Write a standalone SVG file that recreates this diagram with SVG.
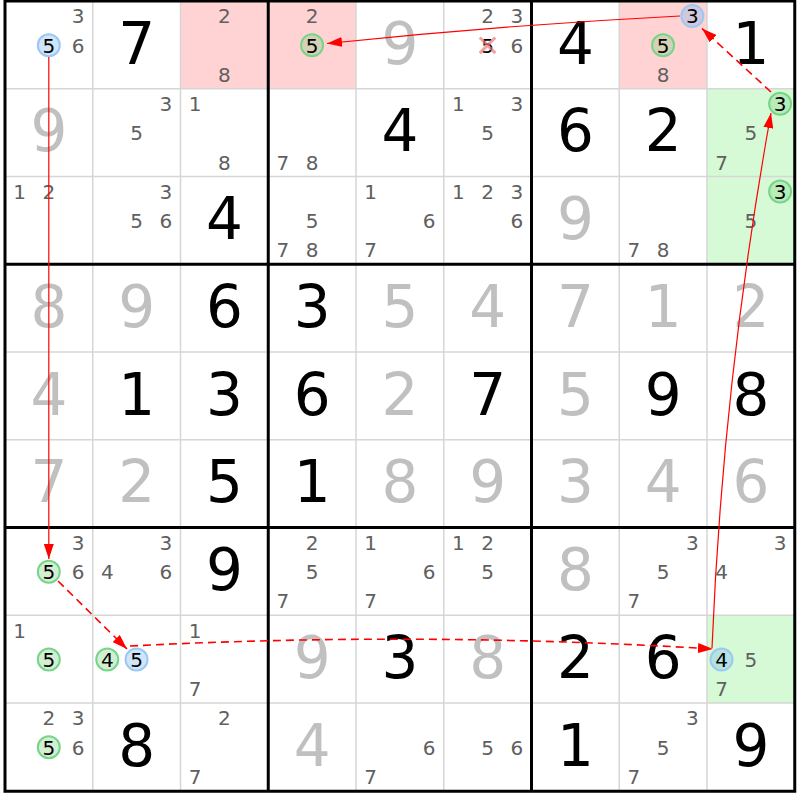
<svg xmlns="http://www.w3.org/2000/svg" width="800" height="800" viewBox="0 0 800 800">
<style>
text{font-family:"DejaVu Sans",Verdana,sans-serif;text-anchor:middle}
.c{font-size:20px;fill:#606060}
.k{fill:#000}
.b{font-size:58px;fill:#000}
.s{fill:#c0c0c0}
.hp{fill:#ffd3d3}
.hg{fill:#d6fad6}
.cb{fill:rgba(120,180,240,0.35);stroke:#9cc8f4;stroke-width:2}
.cg{fill:rgba(130,210,130,0.35);stroke:#78d488;stroke-width:2}
.thin{stroke:#d6d6d6;stroke-width:1.5}
.bold{stroke:#000;stroke-width:3}
.lk{fill:none;stroke:#ff0000;stroke-width:1.2;marker-end:url(#ah)}
.dl{stroke-width:1.6;stroke-dasharray:8,5}
</style>
<defs>
<marker id="ah" markerUnits="userSpaceOnUse" markerWidth="15" markerHeight="10" refX="15" refY="5" orient="auto">
<path d="M0,0 L15,5 L0,10 z" fill="#ff0000"/>
</marker>
</defs>
<rect x="0" y="0" width="800" height="800" fill="#fff"/>
<g id="cells">
<!-- row 1 -->
<g id="r1c1" transform="translate(5,1)"><circle class="cb" cx="43.8" cy="44.3" r="11"/><text class="c" x="73.1" y="22.3">3</text><text class="c k" x="43.8" y="51.6">5</text><text class="c" x="73.1" y="51.6">6</text></g>
<g id="r1c2" transform="translate(92.75,1)"><text class="b" x="43.9" y="62.5">7</text></g>
<g id="r1c3" transform="translate(180.5,1)"><rect class="hp" width="87.75" height="87.75"/><text class="c" x="43.8" y="22.3">2</text><text class="c" x="43.8" y="80.9">8</text></g>
<g id="r1c4" transform="translate(268.25,1)"><rect class="hp" width="87.75" height="87.75"/><circle class="cg" cx="43.8" cy="44.3" r="11"/><text class="c" x="43.8" y="22.3">2</text><text class="c k" x="43.8" y="51.6">5</text></g>
<g id="r1c5" transform="translate(356,1)"><text class="b s" x="43.9" y="62.5">9</text></g>
<g id="r1c6" transform="translate(443.75,1)"><text class="c" x="43.8" y="22.3">2</text><text class="c" x="73.1" y="22.3">3</text><text class="c k" x="43.8" y="51.6">5</text><path d="M36,36.5 L51.6,52.1 M51.6,36.5 L36,52.1" stroke="#f07878" stroke-opacity="0.7" stroke-width="3"/><text class="c" x="73.1" y="51.6">6</text></g>
<g id="r1c7" transform="translate(531.5,1)"><text class="b" x="43.9" y="62.5">4</text></g>
<g id="r1c8" transform="translate(619.25,1)"><rect class="hp" width="87.75" height="87.75"/><circle class="cb" cx="73.1" cy="15" r="11"/><circle class="cg" cx="43.8" cy="44.3" r="11"/><text class="c k" x="73.1" y="22.3">3</text><text class="c k" x="43.8" y="51.6">5</text><text class="c" x="43.8" y="80.9">8</text></g>
<g id="r1c9" transform="translate(707,1)"><text class="b" x="43.9" y="62.5">1</text></g>
<!-- row 2 -->
<g id="r2c1" transform="translate(5,88.75)"><text class="b s" x="43.9" y="62.5">9</text></g>
<g id="r2c2" transform="translate(92.75,88.75)"><text class="c" x="73.1" y="22.3">3</text><text class="c" x="43.8" y="51.6">5</text></g>
<g id="r2c3" transform="translate(180.5,88.75)"><text class="c" x="14.5" y="22.3">1</text><text class="c" x="43.8" y="80.9">8</text></g>
<g id="r2c4" transform="translate(268.25,88.75)"><text class="c" x="14.5" y="80.9">7</text><text class="c" x="43.8" y="80.9">8</text></g>
<g id="r2c5" transform="translate(356,88.75)"><text class="b" x="43.9" y="62.5">4</text></g>
<g id="r2c6" transform="translate(443.75,88.75)"><text class="c" x="14.5" y="22.3">1</text><text class="c" x="73.1" y="22.3">3</text><text class="c" x="43.8" y="51.6">5</text></g>
<g id="r2c7" transform="translate(531.5,88.75)"><text class="b" x="43.9" y="62.5">6</text></g>
<g id="r2c8" transform="translate(619.25,88.75)"><text class="b" x="43.9" y="62.5">2</text></g>
<g id="r2c9" transform="translate(707,88.75)"><rect class="hg" width="87.75" height="87.75"/><circle class="cg" cx="73.1" cy="15" r="11"/><text class="c k" x="73.1" y="22.3">3</text><text class="c" x="43.8" y="51.6">5</text><text class="c" x="14.5" y="80.9">7</text></g>
<!-- row 3 -->
<g id="r3c1" transform="translate(5,176.5)"><text class="c" x="14.5" y="22.3">1</text><text class="c" x="43.8" y="22.3">2</text></g>
<g id="r3c2" transform="translate(92.75,176.5)"><text class="c" x="73.1" y="22.3">3</text><text class="c" x="43.8" y="51.6">5</text><text class="c" x="73.1" y="51.6">6</text></g>
<g id="r3c3" transform="translate(180.5,176.5)"><text class="b" x="43.9" y="62.5">4</text></g>
<g id="r3c4" transform="translate(268.25,176.5)"><text class="c" x="43.8" y="51.6">5</text><text class="c" x="14.5" y="80.9">7</text><text class="c" x="43.8" y="80.9">8</text></g>
<g id="r3c5" transform="translate(356,176.5)"><text class="c" x="14.5" y="22.3">1</text><text class="c" x="73.1" y="51.6">6</text><text class="c" x="14.5" y="80.9">7</text></g>
<g id="r3c6" transform="translate(443.75,176.5)"><text class="c" x="14.5" y="22.3">1</text><text class="c" x="43.8" y="22.3">2</text><text class="c" x="73.1" y="22.3">3</text><text class="c" x="73.1" y="51.6">6</text></g>
<g id="r3c7" transform="translate(531.5,176.5)"><text class="b s" x="43.9" y="62.5">9</text></g>
<g id="r3c8" transform="translate(619.25,176.5)"><text class="c" x="14.5" y="80.9">7</text><text class="c" x="43.8" y="80.9">8</text></g>
<g id="r3c9" transform="translate(707,176.5)"><rect class="hg" width="87.75" height="87.75"/><circle class="cg" cx="73.1" cy="15" r="11"/><text class="c k" x="73.1" y="22.3">3</text><text class="c" x="43.8" y="51.6">5</text></g>
<!-- row 4 -->
<g id="r4c1" transform="translate(5,264.25)"><text class="b s" x="43.9" y="62.5">8</text></g>
<g id="r4c2" transform="translate(92.75,264.25)"><text class="b s" x="43.9" y="62.5">9</text></g>
<g id="r4c3" transform="translate(180.5,264.25)"><text class="b" x="43.9" y="62.5">6</text></g>
<g id="r4c4" transform="translate(268.25,264.25)"><text class="b" x="43.9" y="62.5">3</text></g>
<g id="r4c5" transform="translate(356,264.25)"><text class="b s" x="43.9" y="62.5">5</text></g>
<g id="r4c6" transform="translate(443.75,264.25)"><text class="b s" x="43.9" y="62.5">4</text></g>
<g id="r4c7" transform="translate(531.5,264.25)"><text class="b s" x="43.9" y="62.5">7</text></g>
<g id="r4c8" transform="translate(619.25,264.25)"><text class="b s" x="43.9" y="62.5">1</text></g>
<g id="r4c9" transform="translate(707,264.25)"><text class="b s" x="43.9" y="62.5">2</text></g>
<!-- row 5 -->
<g id="r5c1" transform="translate(5,352)"><text class="b s" x="43.9" y="62.5">4</text></g>
<g id="r5c2" transform="translate(92.75,352)"><text class="b" x="43.9" y="62.5">1</text></g>
<g id="r5c3" transform="translate(180.5,352)"><text class="b" x="43.9" y="62.5">3</text></g>
<g id="r5c4" transform="translate(268.25,352)"><text class="b" x="43.9" y="62.5">6</text></g>
<g id="r5c5" transform="translate(356,352)"><text class="b s" x="43.9" y="62.5">2</text></g>
<g id="r5c6" transform="translate(443.75,352)"><text class="b" x="43.9" y="62.5">7</text></g>
<g id="r5c7" transform="translate(531.5,352)"><text class="b s" x="43.9" y="62.5">5</text></g>
<g id="r5c8" transform="translate(619.25,352)"><text class="b" x="43.9" y="62.5">9</text></g>
<g id="r5c9" transform="translate(707,352)"><text class="b" x="43.9" y="62.5">8</text></g>
<!-- row 6 -->
<g id="r6c1" transform="translate(5,439.75)"><text class="b s" x="43.9" y="62.5">7</text></g>
<g id="r6c2" transform="translate(92.75,439.75)"><text class="b s" x="43.9" y="62.5">2</text></g>
<g id="r6c3" transform="translate(180.5,439.75)"><text class="b" x="43.9" y="62.5">5</text></g>
<g id="r6c4" transform="translate(268.25,439.75)"><text class="b" x="43.9" y="62.5">1</text></g>
<g id="r6c5" transform="translate(356,439.75)"><text class="b s" x="43.9" y="62.5">8</text></g>
<g id="r6c6" transform="translate(443.75,439.75)"><text class="b s" x="43.9" y="62.5">9</text></g>
<g id="r6c7" transform="translate(531.5,439.75)"><text class="b s" x="43.9" y="62.5">3</text></g>
<g id="r6c8" transform="translate(619.25,439.75)"><text class="b s" x="43.9" y="62.5">4</text></g>
<g id="r6c9" transform="translate(707,439.75)"><text class="b s" x="43.9" y="62.5">6</text></g>
<!-- row 7 -->
<g id="r7c1" transform="translate(5,527.5)"><circle class="cg" cx="43.8" cy="44.3" r="11"/><text class="c" x="73.1" y="22.3">3</text><text class="c k" x="43.8" y="51.6">5</text><text class="c" x="73.1" y="51.6">6</text></g>
<g id="r7c2" transform="translate(92.75,527.5)"><text class="c" x="73.1" y="22.3">3</text><text class="c" x="14.5" y="51.6">4</text><text class="c" x="73.1" y="51.6">6</text></g>
<g id="r7c3" transform="translate(180.5,527.5)"><text class="b" x="43.9" y="62.5">9</text></g>
<g id="r7c4" transform="translate(268.25,527.5)"><text class="c" x="43.8" y="22.3">2</text><text class="c" x="43.8" y="51.6">5</text><text class="c" x="14.5" y="80.9">7</text></g>
<g id="r7c5" transform="translate(356,527.5)"><text class="c" x="14.5" y="22.3">1</text><text class="c" x="73.1" y="51.6">6</text><text class="c" x="14.5" y="80.9">7</text></g>
<g id="r7c6" transform="translate(443.75,527.5)"><text class="c" x="14.5" y="22.3">1</text><text class="c" x="43.8" y="22.3">2</text><text class="c" x="43.8" y="51.6">5</text></g>
<g id="r7c7" transform="translate(531.5,527.5)"><text class="b s" x="43.9" y="62.5">8</text></g>
<g id="r7c8" transform="translate(619.25,527.5)"><text class="c" x="73.1" y="22.3">3</text><text class="c" x="43.8" y="51.6">5</text><text class="c" x="14.5" y="80.9">7</text></g>
<g id="r7c9" transform="translate(707,527.5)"><text class="c" x="73.1" y="22.3">3</text><text class="c" x="14.5" y="51.6">4</text></g>
<!-- row 8 -->
<g id="r8c1" transform="translate(5,615.25)"><circle class="cg" cx="43.8" cy="44.3" r="11"/><text class="c" x="14.5" y="22.3">1</text><text class="c k" x="43.8" y="51.6">5</text></g>
<g id="r8c2" transform="translate(92.75,615.25)"><circle class="cg" cx="14.5" cy="44.3" r="11"/><circle class="cb" cx="43.8" cy="44.3" r="11"/><text class="c k" x="14.5" y="51.6">4</text><text class="c k" x="43.8" y="51.6">5</text></g>
<g id="r8c3" transform="translate(180.5,615.25)"><text class="c" x="14.5" y="22.3">1</text><text class="c" x="14.5" y="80.9">7</text></g>
<g id="r8c4" transform="translate(268.25,615.25)"><text class="b s" x="43.9" y="62.5">9</text></g>
<g id="r8c5" transform="translate(356,615.25)"><text class="b" x="43.9" y="62.5">3</text></g>
<g id="r8c6" transform="translate(443.75,615.25)"><text class="b s" x="43.9" y="62.5">8</text></g>
<g id="r8c7" transform="translate(531.5,615.25)"><text class="b" x="43.9" y="62.5">2</text></g>
<g id="r8c8" transform="translate(619.25,615.25)"><text class="b" x="43.9" y="62.5">6</text></g>
<g id="r8c9" transform="translate(707,615.25)"><rect class="hg" width="87.75" height="87.75"/><circle class="cb" cx="14.5" cy="44.3" r="11"/><text class="c k" x="14.5" y="51.6">4</text><text class="c" x="43.8" y="51.6">5</text><text class="c" x="14.5" y="80.9">7</text></g>
<!-- row 9 -->
<g id="r9c1" transform="translate(5,703)"><circle class="cg" cx="43.8" cy="44.3" r="11"/><text class="c" x="43.8" y="22.3">2</text><text class="c" x="73.1" y="22.3">3</text><text class="c k" x="43.8" y="51.6">5</text><text class="c" x="73.1" y="51.6">6</text></g>
<g id="r9c2" transform="translate(92.75,703)"><text class="b" x="43.9" y="62.5">8</text></g>
<g id="r9c3" transform="translate(180.5,703)"><text class="c" x="43.8" y="22.3">2</text><text class="c" x="14.5" y="80.9">7</text></g>
<g id="r9c4" transform="translate(268.25,703)"><text class="b s" x="43.9" y="62.5">4</text></g>
<g id="r9c5" transform="translate(356,703)"><text class="c" x="73.1" y="51.6">6</text><text class="c" x="14.5" y="80.9">7</text></g>
<g id="r9c6" transform="translate(443.75,703)"><text class="c" x="43.8" y="51.6">5</text><text class="c" x="73.1" y="51.6">6</text></g>
<g id="r9c7" transform="translate(531.5,703)"><text class="b" x="43.9" y="62.5">1</text></g>
<g id="r9c8" transform="translate(619.25,703)"><text class="c" x="73.1" y="22.3">3</text><text class="c" x="43.8" y="51.6">5</text><text class="c" x="14.5" y="80.9">7</text></g>
<g id="r9c9" transform="translate(707,703)"><text class="b" x="43.9" y="62.5">9</text></g>
</g>
<g id="grid">
<path class="thin" d="M92.75,1V791.25 M180.5,1V791.25 M356,1V791.25 M443.75,1V791.25 M619.25,1V791.25 M707,1V791.25 M5,88.75H794.75 M5,176.5H794.75 M5,352H794.75 M5,439.75H794.75 M5,615.25H794.75 M5,703H794.75"/>
<path class="bold" d="M268.25,1V791.25 M531.5,1V791.25 M5,264.25H794.75 M5,527.5H794.75"/>
<rect class="bold" x="5" y="1" width="789.75" height="790.25" fill="none"/>
</g>
<g id="connectors">
<path class="lk" d="M48.8,57 L48.8,559"/>
<path class="lk dl" d="M58,581 L127,649"/>
<path class="lk dl" d="M130,646 Q421,631 713,649"/>
<path class="lk" d="M712,648 Q723,380 771,113"/>
<path class="lk dl" d="M771,92 L702,28.5"/>
<path class="lk" d="M680,16 Q503,25 327,43.5"/>
</g>
</svg>
